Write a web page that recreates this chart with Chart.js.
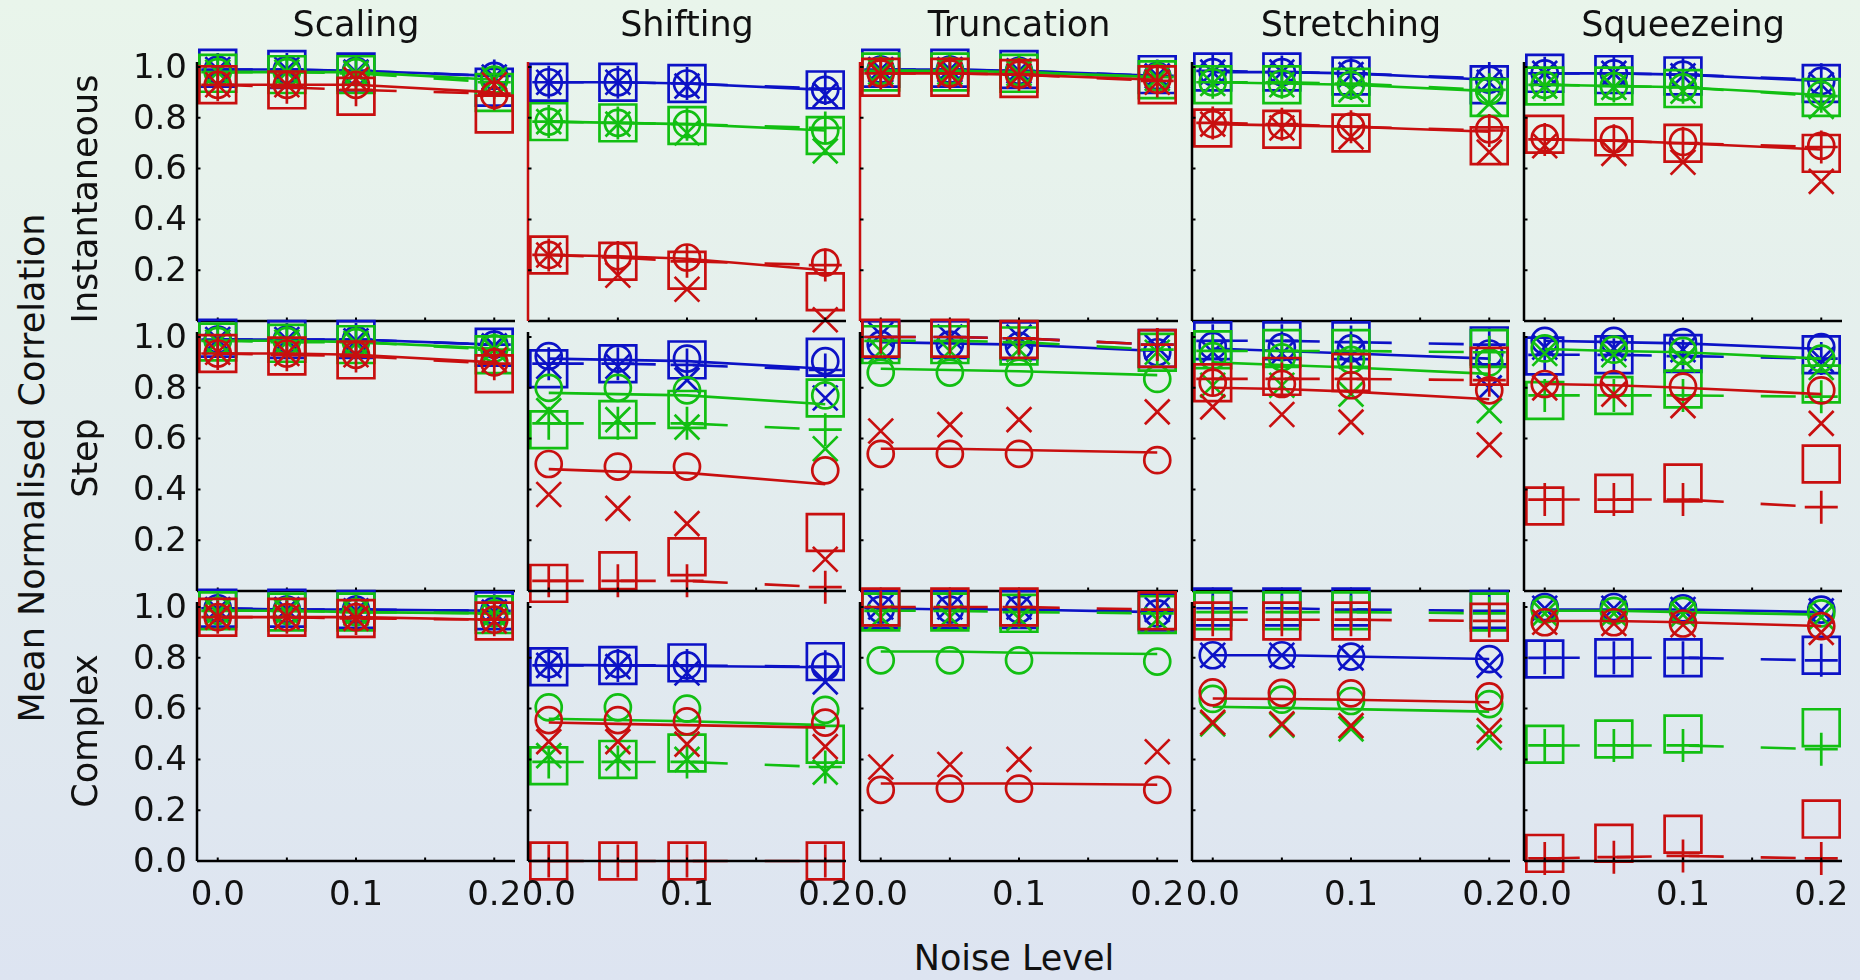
<!DOCTYPE html>
<html>
<head>
<meta charset="utf-8">
<script src="https://cdn.jsdelivr.net/npm/chart.js@4.4.1/dist/chart.umd.min.js"></script>
<style>
  body { margin: 0; width: 1860px; height: 980px; overflow: hidden; position: relative;
         background: linear-gradient(#e9f5eb, #dde4f1); font-family: "DejaVu Sans", sans-serif; }
  canvas { position: absolute; }
  .lbl { position: absolute; font-size: 35px; color: #111; white-space: nowrap; transform: translate(-50%, -50%); }
  .rot { transform: translate(-50%, -50%) rotate(-90deg); }
</style>
</head>
<body>
<script>
// noise levels on the x axis
const noise = [0, 0.05, 0.1, 0.2];
const transforms = ["Scaling", "Shifting", "Truncation", "Stretching", "Squeezeing"];
const signals = ["Instantaneous", "Step", "Complex"];
const yTickVals = [0.2, 0.4, 0.6, 0.8, 1.0];
const xTickVals = [0, 0.1, 0.2];
const xTickText = ["0.0", "0.1", "0.2"];

// values: [signal row][transform col][blue, green, red]
const solidLine = [
  [ // Instantaneous
    [[0.99,0.99,0.985,0.965],[0.98,0.98,0.98,0.95],[0.93,0.93,0.93,0.90]],
    [[0.94,0.94,0.935,0.91],[0.785,0.78,0.775,0.75],[0.26,0.255,0.245,0.20]],
    [[0.99,0.99,0.985,0.965],[0.985,0.985,0.98,0.96],[0.975,0.975,0.97,0.95]],
    [[0.98,0.98,0.975,0.95],[0.94,0.935,0.93,0.905],[0.775,0.77,0.765,0.745]],
    [[0.975,0.975,0.97,0.945],[0.93,0.925,0.92,0.89],[0.715,0.71,0.70,0.675]]
  ],
  [ // Step
    [[0.99,0.99,0.99,0.97],[0.985,0.985,0.98,0.955],[0.935,0.935,0.93,0.90]],
    [[0.915,0.91,0.905,0.875],[0.78,0.775,0.77,0.735],[0.48,0.47,0.465,0.42]],
    [[0.98,0.975,0.97,0.945],[0.875,0.87,0.865,0.85],[0.56,0.56,0.555,0.545]],
    [[0.955,0.945,0.935,0.915],[0.90,0.89,0.88,0.855],[0.80,0.795,0.785,0.755]],
    [[0.985,0.98,0.975,0.953],[0.953,0.945,0.94,0.915],[0.815,0.81,0.80,0.775]]
  ],
  [ // Complex
    [[0.995,0.99,0.99,0.985],[0.985,0.985,0.98,0.975],[0.96,0.96,0.96,0.95]],
    [[0.772,0.77,0.768,0.763],[0.56,0.555,0.55,0.535],[0.545,0.54,0.535,0.525]],
    [[0.995,0.99,0.99,0.98],[0.825,0.825,0.82,0.815],[0.305,0.305,0.305,0.30]],
    [[0.81,0.81,0.805,0.795],[0.607,0.603,0.598,0.588],[0.64,0.638,0.635,0.625]],
    [[0.99,0.99,0.99,0.98],[0.985,0.985,0.98,0.97],[0.945,0.945,0.94,0.925]]
  ]
];

const circleMark = [
  [
    [[0.99,0.99,0.985,0.965],[0.98,0.98,0.98,0.95],[0.93,0.93,0.93,0.89]],
    [[0.94,0.94,0.935,0.91],[0.785,0.78,0.775,0.75],[0.26,0.255,0.25,0.23]],
    [[0.99,0.99,0.985,0.965],[0.985,0.985,0.98,0.96],[0.975,0.975,0.97,0.95]],
    [[0.98,0.98,0.975,0.95],[0.94,0.935,0.93,0.905],[0.775,0.77,0.765,0.755]],
    [[0.975,0.975,0.97,0.945],[0.93,0.925,0.92,0.89],[0.72,0.715,0.705,0.69]]
  ],
  [
    [[0.99,0.99,0.99,0.97],[0.985,0.985,0.98,0.955],[0.935,0.935,0.93,0.90]],
    [[0.925,0.915,0.915,0.905],[0.80,0.80,0.79,0.77],[0.50,0.49,0.49,0.475]],
    [[0.97,0.97,0.965,0.94],[0.86,0.86,0.86,0.835],[0.54,0.54,0.54,0.515]],
    [[0.965,0.96,0.955,0.935],[0.925,0.92,0.91,0.90],[0.82,0.815,0.81,0.79]],
    [[0.985,0.985,0.98,0.96],[0.955,0.95,0.945,0.915],[0.815,0.815,0.805,0.79]]
  ],
  [
    [[0.995,0.99,0.99,0.985],[0.985,0.985,0.98,0.975],[0.96,0.96,0.96,0.95]],
    [[0.775,0.775,0.77,0.765],[0.605,0.605,0.60,0.595],[0.555,0.555,0.55,0.545]],
    [[0.99,0.99,0.99,0.975],[0.79,0.79,0.79,0.785],[0.28,0.285,0.285,0.28]],
    [[0.81,0.81,0.805,0.795],[0.638,0.635,0.63,0.618],[0.664,0.662,0.66,0.648]],
    [[1.0,1.0,0.995,0.99],[0.99,0.985,0.985,0.975],[0.94,0.94,0.935,0.925]]
  ]
];

const crossMark = [
  [
    [[0.99,0.99,0.98,0.96],[0.98,0.98,0.975,0.95],[0.93,0.93,0.95,0.93]],
    [[0.94,0.94,0.925,0.89],[0.785,0.775,0.74,0.67],[0.26,0.18,0.125,0.005]],
    [[0.99,0.99,0.985,0.965],[0.98,0.98,0.975,0.955],[0.97,0.97,0.965,0.94]],
    [[0.98,0.98,0.97,0.94],[0.935,0.93,0.91,0.855],[0.775,0.76,0.725,0.665]],
    [[0.975,0.975,0.965,0.93],[0.925,0.92,0.905,0.845],[0.69,0.66,0.625,0.55]]
  ],
  [
    [[0.99,0.99,0.985,0.965],[0.98,0.98,0.975,0.95],[0.94,0.935,0.93,0.91]],
    [[0.885,0.885,0.83,0.76],[0.71,0.675,0.645,0.56],[0.38,0.325,0.265,0.125]],
    [[1.01,1.0,1.0,0.96],[0.945,0.945,0.95,0.94],[0.63,0.655,0.675,0.705]],
    [[0.94,0.935,0.925,0.80],[0.81,0.81,0.775,0.71],[0.725,0.695,0.665,0.575]],
    [[0.96,0.955,0.95,0.91],[0.935,0.93,0.91,0.88],[0.80,0.775,0.73,0.66]]
  ],
  [
    [[0.99,0.99,0.985,0.98],[0.98,0.98,0.975,0.97],[0.96,0.96,0.955,0.945]],
    [[0.77,0.765,0.74,0.705],[0.415,0.405,0.40,0.35],[0.47,0.47,0.46,0.45]],
    [[1.0,1.0,1.0,0.99],[0.96,0.96,0.955,0.95],[0.37,0.38,0.40,0.43]],
    [[0.81,0.81,0.80,0.77],[0.54,0.535,0.52,0.487],[0.546,0.54,0.533,0.513]],
    [[0.995,0.995,0.99,0.985],[0.975,0.975,0.97,0.96],[0.94,0.935,0.93,0.90]]
  ]
];

const squareMark = [
  [
    [[0.995,0.99,0.98,0.92],[0.975,0.97,0.97,0.90],[0.93,0.91,0.885,0.815]],
    [[0.94,0.94,0.935,0.91],[0.785,0.78,0.77,0.73],[0.26,0.235,0.20,0.115]],
    [[0.995,0.995,0.99,0.97],[0.98,0.98,0.975,0.95],[0.96,0.96,0.955,0.93]],
    [[0.98,0.98,0.965,0.93],[0.93,0.93,0.92,0.88],[0.76,0.755,0.74,0.69]],
    [[0.975,0.97,0.965,0.935],[0.925,0.925,0.915,0.88],[0.735,0.725,0.70,0.66]]
  ],
  [
    [[0.995,0.99,0.99,0.96],[0.98,0.975,0.97,0.93],[0.935,0.925,0.91,0.855]],
    [[0.875,0.895,0.91,0.92],[0.635,0.675,0.715,0.76],[0.03,0.08,0.135,0.23]],
    [[0.99,0.99,0.985,0.955],[0.97,0.97,0.965,0.94],[0.995,0.995,0.99,0.955]],
    [[0.985,0.985,0.985,0.965],[0.95,0.955,0.955,0.955],[0.82,0.845,0.86,0.885]],
    [[0.925,0.93,0.935,0.93],[0.75,0.77,0.795,0.815],[0.335,0.385,0.425,0.50]]
  ],
  [
    [[0.995,0.995,0.99,0.985],[0.985,0.98,0.98,0.97],[0.96,0.96,0.955,0.945]],
    [[0.765,0.77,0.78,0.785],[0.375,0.40,0.425,0.46],[0,0,0,0]],
    [[0.99,0.99,0.99,0.98],[0.98,0.98,0.975,0.97],[1.0,1.0,1.0,0.985]],
    [[1.0,1.0,1.0,0.99],[0.985,0.985,0.985,0.98],[0.945,0.945,0.945,0.94]],
    [[0.795,0.80,0.80,0.81],[0.46,0.48,0.50,0.525],[0.03,0.07,0.105,0.165]]
  ]
];

const plusMark = [
  [
    [[0.99,0.99,0.985,0.965],[0.98,0.98,0.975,0.94],[0.93,0.92,0.91,0.895]],
    [[0.94,0.94,0.935,0.915],[0.785,0.78,0.775,0.76],[0.26,0.25,0.235,0.22]],
    [[0.99,0.99,0.985,0.965],[0.985,0.985,0.98,0.96],[0.975,0.975,0.97,0.945]],
    [[0.985,0.98,0.975,0.955],[0.94,0.94,0.935,0.91],[0.78,0.775,0.765,0.75]],
    [[0.975,0.975,0.97,0.95],[0.93,0.925,0.92,0.885],[0.715,0.71,0.70,0.685]]
  ],
  [
    [[0.99,0.99,0.99,0.97],[0.985,0.98,0.98,0.95],[0.935,0.93,0.925,0.895]],
    [[0.895,0.895,0.89,0.87],[0.66,0.66,0.66,0.635],[0.04,0.04,0.04,0.015]],
    [[1.0,1.0,0.995,0.97],[0.985,0.985,0.98,0.95],[1.0,1.0,0.995,0.97]],
    [[0.985,0.985,0.98,0.97],[0.945,0.945,0.945,0.94],[0.835,0.835,0.835,0.83]],
    [[0.93,0.93,0.925,0.915],[0.77,0.77,0.77,0.765],[0.36,0.36,0.36,0.33]]
  ],
  [
    [[0.995,0.99,0.99,0.985],[0.985,0.985,0.98,0.975],[0.96,0.96,0.955,0.95]],
    [[0.77,0.77,0.77,0.765],[0.39,0.39,0.39,0.37],[0,0,0,0]],
    [[0.995,0.995,0.99,0.985],[0.985,0.985,0.98,0.975],[1.0,1.0,1.0,0.99]],
    [[0.995,0.995,0.99,0.985],[0.98,0.98,0.98,0.975],[0.95,0.95,0.95,0.945]],
    [[0.80,0.80,0.80,0.79],[0.455,0.455,0.455,0.44],[0.01,0.015,0.02,0.01]]
  ]
];

// styling and layout
const colours = ["#0c12c6", "#12bf12", "#c80f0f"];
const colLeft = [197, 528, 860, 1192, 1524];
const colW = 318;
const rowTop = [51, 321, 591];
const rowH = 270;
const M = 40;

const frame = {
  id: "frame",
  afterDraw(chart, args, o) {
    const { ctx, chartArea: a, scales: { x, y } } = chart;
    const y0 = y.getPixelForValue(0);
    const xl = a.left;
    ctx.save();
    ctx.lineWidth = 2.5;
    ctx.strokeStyle = "#000";
    ctx.beginPath();
    ctx.moveTo(a.left, y0);
    ctx.lineTo(a.right, y0);
    ctx.stroke();
    ctx.strokeStyle = o.leftColor;
    ctx.beginPath();
    ctx.moveTo(xl, y0);
    ctx.lineTo(xl, y.getPixelForValue(1.02));
    ctx.stroke();
    ctx.strokeStyle = "#000";
    ctx.lineWidth = 2;
    ctx.beginPath();
    yTickVals.forEach(v => { const p = y.getPixelForValue(v); ctx.moveTo(xl, p); ctx.lineTo(xl + 3.5, p); });
    [0, 0.05, 0.1, 0.15, 0.2].forEach(v => { const p = x.getPixelForValue(v); ctx.moveTo(p, y0); ctx.lineTo(p, y0 - 3.5); });
    ctx.stroke();
    ctx.fillStyle = "#111";
    ctx.font = "34px 'DejaVu Sans'";
    if (o.showY) {
      ctx.textAlign = "right";
      ctx.textBaseline = "middle";
      const vals = o.showZero ? [0].concat(yTickVals) : yTickVals;
      vals.forEach(v => ctx.fillText(v.toFixed(1), xl - 10, y.getPixelForValue(v) + 2));
    }
    if (o.showX) {
      ctx.textAlign = "center";
      ctx.textBaseline = "middle";
      xTickVals.forEach((v, i) => ctx.fillText(xTickText[i], x.getPixelForValue(v), y0 + 35));
    }
    ctx.restore();
  }
};

function pts(vals) {
  return vals.map((v, i) => ({ x: noise[i], y: v }));
}

function panelDatasets(r, c) {
  const ds = [];
  colours.forEach((col, k) => {
    const ord = 3 - k;
    const base = { borderColor: col, pointBorderColor: col, pointBackgroundColor: "rgba(0,0,0,0)",
                   pointBorderWidth: 2.7, clip: false, order: ord };
    ds.push({ ...base, data: pts(solidLine[r][c][k]), borderWidth: 2.6, pointRadius: 0 });
    ds.push({ ...base, data: pts(plusMark[r][c][k]), borderWidth: 2.6, borderDash: [35, 37],
              pointStyle: "cross", pointRadius: 16.5 });
    ds.push({ ...base, data: pts(circleMark[r][c][k]), showLine: false, pointStyle: "circle", pointRadius: 13 });
    ds.push({ ...base, data: pts(crossMark[r][c][k]), showLine: false, pointStyle: "crossRot", pointRadius: 17.5 });
    ds.push({ ...base, data: pts(squareMark[r][c][k]), showLine: false, pointStyle: "rect", pointRadius: 26 });
  });
  return ds;
}

signals.forEach((sig, r) => {
  transforms.forEach((tr, c) => {
    const padL = c === 0 ? 120 : M;
    const padB = r === 2 ? 70 : M;
    const cv = document.createElement("canvas");
    cv.width = colW + padL + M;
    cv.height = rowH + M + padB;
    cv.style.left = (colLeft[c] - padL) + "px";
    cv.style.top = (rowTop[r] - M) + "px";
    document.body.appendChild(cv);
    new Chart(cv, {
      type: "line",
      data: { datasets: panelDatasets(r, c) },
      options: {
        responsive: false,
        animation: false,
        events: [],
        layout: { padding: { left: padL, right: M, top: M, bottom: padB } },
        elements: { line: { tension: 0 } },
        scales: {
          x: { type: "linear", min: -0.015, max: 0.215, display: false },
          y: { type: "linear", min: 0, max: 1.063, display: false }
        },
        plugins: {
          legend: { display: false },
          tooltip: { enabled: false },
          frame: { leftColor: r === 0 && (c === 1 || c === 2) ? "#c80f0f" : "#000",
                   showY: c === 0, showZero: r === 2, showX: r === 2 }
        }
      },
      plugins: [frame]
    });
  });
});

function addLabel(text, x, y, rot) {
  const d = document.createElement("div");
  d.className = rot ? "lbl rot" : "lbl";
  d.textContent = text;
  d.style.left = x + "px";
  d.style.top = y + "px";
  document.body.appendChild(d);
}

transforms.forEach((t, c) => addLabel(t, colLeft[c] + colW / 2, 24, false));
addLabel("Instantaneous", 85, 199, true);
addLabel("Step", 85, 458, true);
addLabel("Complex", 85, 731, true);
addLabel("Mean Normalised Correlation", 32, 468, true);
addLabel("Noise Level", 1014, 958, false);
</script>
</body>
</html>
